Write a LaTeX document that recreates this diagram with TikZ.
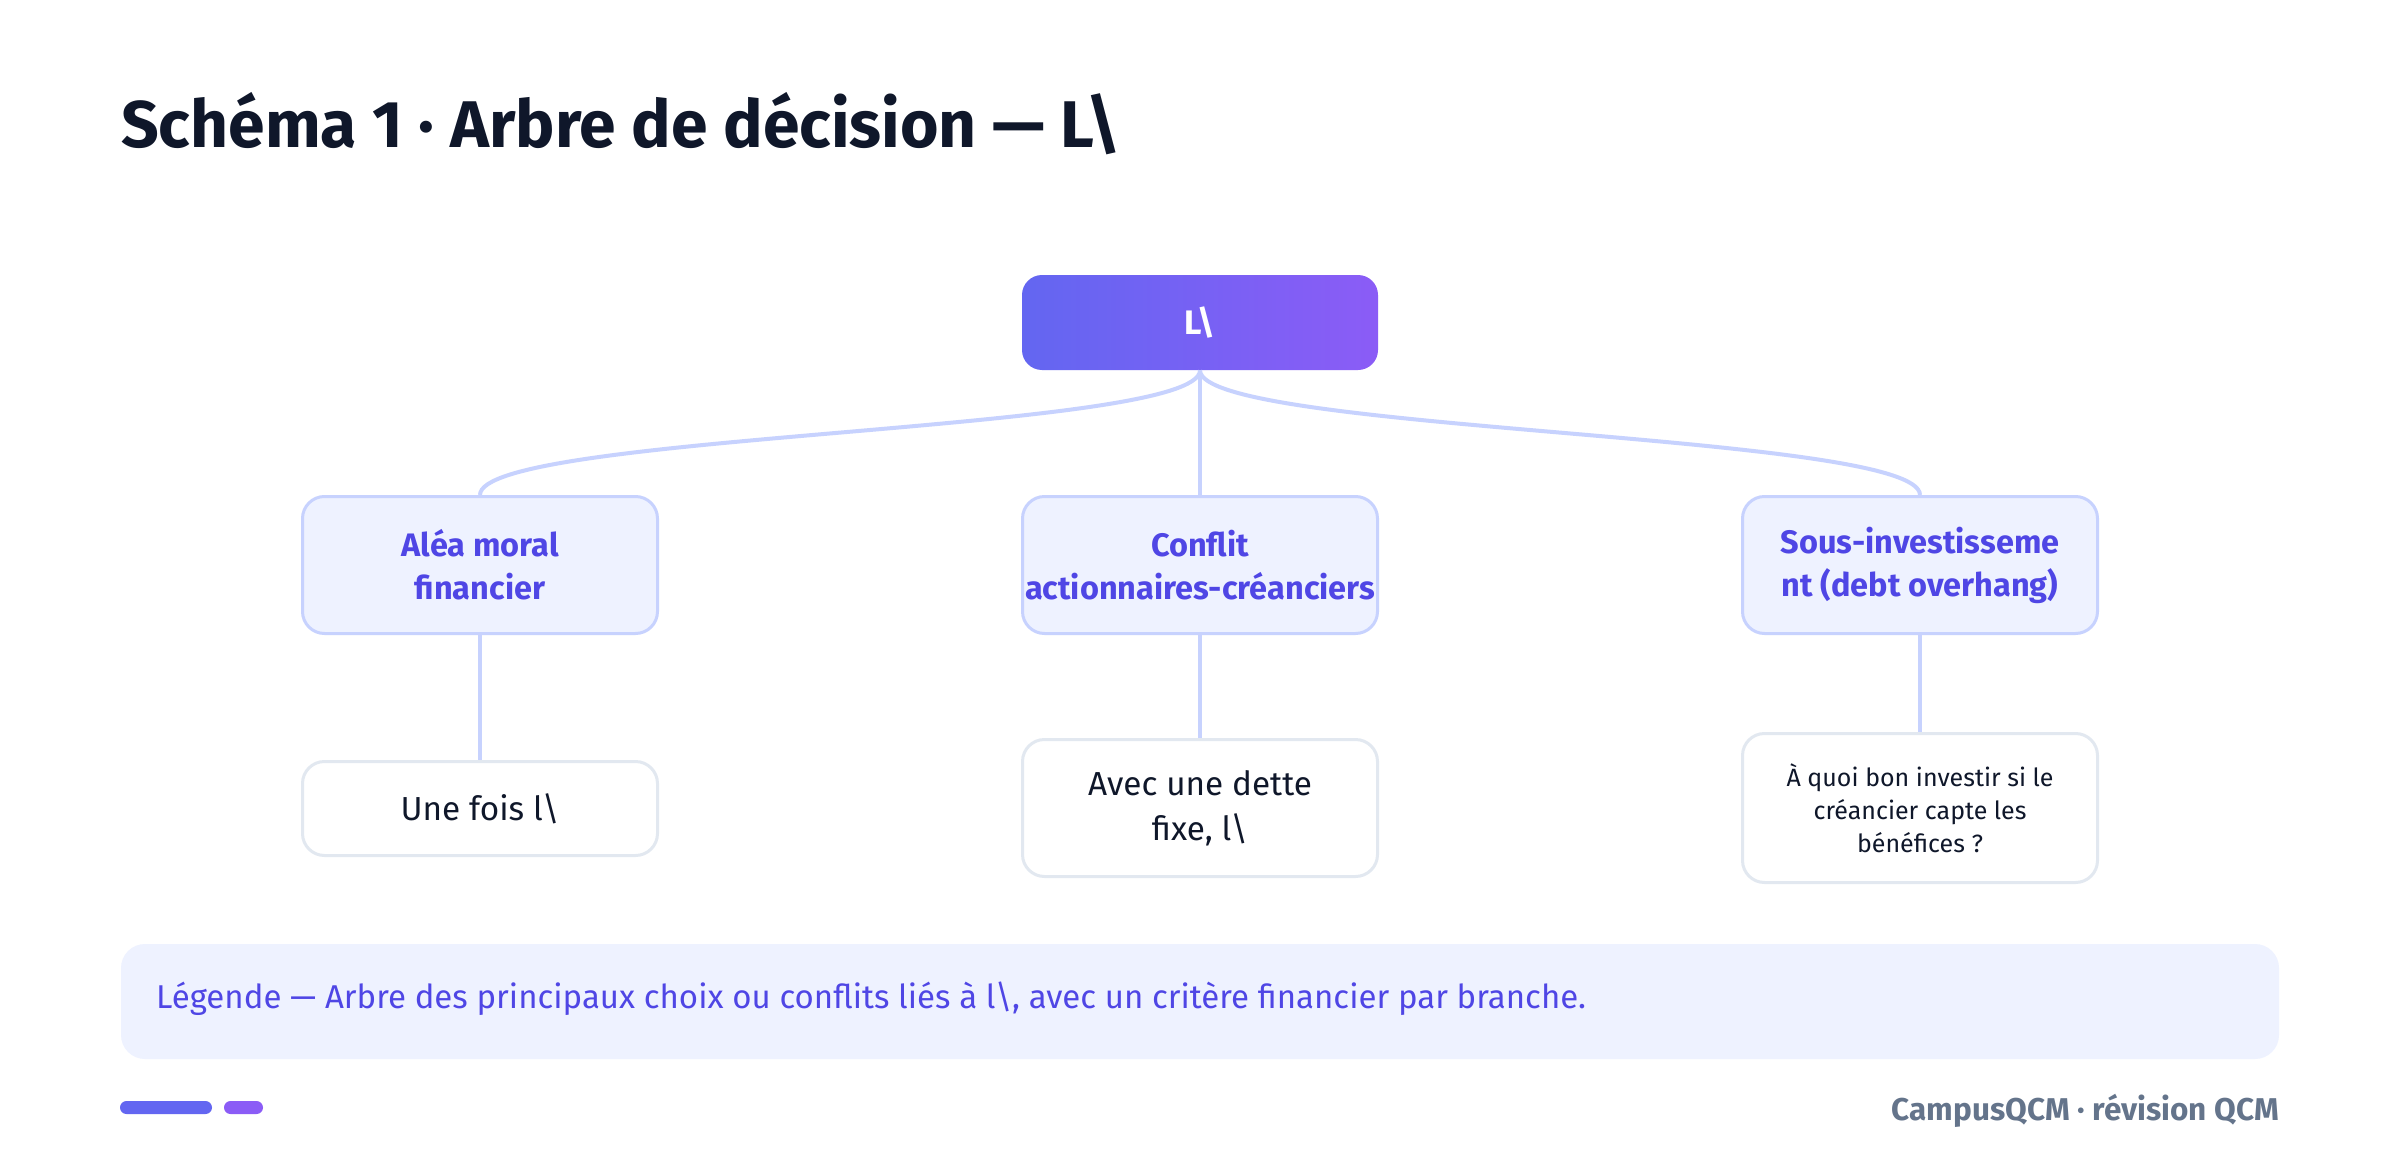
\documentclass[tikz,border=0pt]{standalone}
\usepackage{fontspec}
\setmainfont{Fira Sans}
\IfFontExistsTF{FiraSans-SemiBold.otf}{\newfontfamily\semifont{FiraSans-SemiBold.otf}}{\def\semifont{\bfseries}}
\definecolor{c1}{HTML}{6366F1}
\definecolor{c2}{HTML}{8B5CF6}
\definecolor{cline}{HTML}{C7D2FE}
\definecolor{midfill}{HTML}{EEF2FF}
\definecolor{midborder}{HTML}{C7D2FE}
\definecolor{midtext}{HTML}{4F46E5}
\definecolor{ink}{HTML}{0F172A}
\definecolor{leafborder}{HTML}{E2E8F0}
\definecolor{legendfill}{HTML}{EEF2FF}
\definecolor{legendtext}{HTML}{4F46E5}
\definecolor{foot}{HTML}{64748B}
\begin{document}
\begin{tikzpicture}[x=1pt,y=-1pt,
  conn/.style={draw=cline, line width=4pt},
  rootbox/.style={rounded corners=20pt, left color=c1, right color=c2, minimum width=356pt, minimum height=95pt, text=white, font=\bfseries\fontsize{34}{40}\selectfont, inner sep=0pt},
  midbox/.style={rounded corners=22pt, fill=midfill, draw=midborder, line width=3pt, minimum width=355pt, minimum height=137pt, text=midtext, font=\bfseries\fontsize{32.5}{43}\selectfont, align=center, inner sep=0pt},
  leafbox/.style={rounded corners=22pt, fill=white, draw=leafborder, line width=3pt, minimum width=355pt, text=ink, align=center, inner sep=0pt},
]
\useasboundingbox[fill=white] (0,0) rectangle (2400,1169);
% title
\node[anchor=base west, inner sep=0pt, text=ink, font=\bfseries\fontsize{66}{74}\selectfont] (title) at (121,148) {Schéma 1 · Arbre de décision — L\textbackslash};
% root
\node[rootbox] (root) at (1200,322.5) {L\textbackslash};
% mid
\node[midbox] (m1) at (480,565) {Aléa moral\\financier};
\node[midbox] (m2) at (1200,565) {Conflit\\actionnaires-créanciers};
\node[midbox] (m3) at (1920,565) {Sous-investisseme\\nt (debt overhang)};
% leaves
\node[leafbox, minimum height=94pt, font=\fontsize{33.3}{45}\selectfont] (l1) at (480,808.5) {Une fois l\textbackslash};
\node[leafbox, minimum height=137pt, font=\fontsize{33.3}{45}\selectfont] (l2) at (1200,808) {Avec une dette\\fixe, l\textbackslash};
\node[leafbox, minimum height=149pt, font=\fontsize{25}{33}\selectfont] (l3) at (1920,808) {À quoi bon investir si le\\créancier capte les\\bénéfices ?};
% connectors
\draw[conn] (root.south) .. controls +(0,62.5) and +(0,-62.5) .. (m1.north);
\draw[conn] (root.south) -- (m2.north);
\draw[conn] (root.south) .. controls +(0,62.5) and +(0,-62.5) .. (m3.north);
\draw[conn] (m1.south) -- (l1.north);
\draw[conn] (m2.south) -- (l2.north);
\draw[conn] (m3.south) -- (l3.north);
% legend
\node[rounded corners=24pt, fill=legendfill, minimum width=2158pt, minimum height=115pt, inner sep=0pt] (legend) at (1200,1001.5) {};
\node[anchor=base west, inner sep=0pt, text=legendtext, font=\fontsize{33}{38}\selectfont] (legtext) at (156,1008) {Légende — Arbre des principaux choix ou conflits liés à l\textbackslash, avec un critère financier par branche.};
% footer
\fill[c1, rounded corners=6.5pt] (120,1101) rectangle (212,1114);
\fill[c2, rounded corners=6.5pt] (224,1101) rectangle (263,1114);
\node[anchor=base east, inner sep=0pt, text=foot, font=\semifont\fontsize{31.5}{36}\selectfont] (footer) at (2279,1120) {CampusQCM · révision QCM};
\end{tikzpicture}
\end{document}
